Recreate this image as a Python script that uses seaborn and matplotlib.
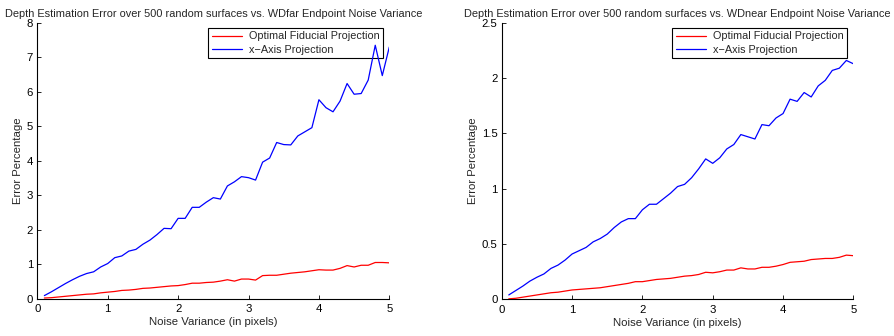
import numpy as np
import pandas as pd
import matplotlib
matplotlib.use("Agg")
import matplotlib.pyplot as plt
import seaborn as sns

# Noise variance levels (pixels)
noise_var = [round(0.1 * i, 1) for i in range(1, 51)]

# WDfar endpoint noise
far_fiducial = [0.02, 0.03, 0.05, 0.07, 0.09, 0.11, 0.13, 0.14, 0.17, 0.19,
                0.21, 0.24, 0.25, 0.27, 0.30, 0.31, 0.33, 0.35, 0.37, 0.38,
                0.41, 0.45, 0.45, 0.47, 0.48, 0.51, 0.55, 0.51, 0.57, 0.57,
                0.54, 0.67, 0.68, 0.68, 0.71, 0.74, 0.76, 0.78, 0.81, 0.84,
                0.83, 0.83, 0.88, 0.96, 0.92, 0.97, 0.97, 1.05, 1.05, 1.04]
far_xaxis = [0.09, 0.20, 0.32, 0.44, 0.55, 0.65, 0.73, 0.78, 0.92, 1.02,
             1.19, 1.24, 1.38, 1.43, 1.58, 1.70, 1.86, 2.04, 2.03, 2.33,
             2.33, 2.65, 2.65, 2.80, 2.93, 2.89, 3.27, 3.39, 3.54, 3.51,
             3.44, 3.96, 4.08, 4.53, 4.47, 4.46, 4.72, 4.84, 4.96, 5.77,
             5.54, 5.42, 5.73, 6.24, 5.93, 5.95, 6.34, 7.35, 6.47, 7.30]

# WDnear endpoint noise
near_fiducial = [0.005, 0.01, 0.02, 0.03, 0.04, 0.05, 0.06, 0.065, 0.075, 0.085,
                 0.09, 0.095, 0.10, 0.105, 0.115, 0.125, 0.135, 0.145, 0.16, 0.16,
                 0.17, 0.18, 0.185, 0.19, 0.20, 0.21, 0.215, 0.225, 0.245, 0.24,
                 0.25, 0.265, 0.265, 0.285, 0.275, 0.275, 0.29, 0.29, 0.30, 0.315,
                 0.335, 0.34, 0.345, 0.36, 0.365, 0.37, 0.37, 0.38, 0.40, 0.395]
near_xaxis = [0.04, 0.08, 0.12, 0.165, 0.20, 0.23, 0.28, 0.31, 0.355, 0.41,
              0.44, 0.47, 0.52, 0.55, 0.59, 0.65, 0.70, 0.73, 0.73, 0.81,
              0.86, 0.86, 0.91, 0.96, 1.02, 1.04, 1.10, 1.18, 1.27, 1.23,
              1.28, 1.36, 1.40, 1.49, 1.47, 1.45, 1.58, 1.57, 1.64, 1.68,
              1.81, 1.79, 1.87, 1.83, 1.93, 1.98, 2.07, 2.09, 2.16, 2.13]

series_names = ["Optimal Fiducial Projection", "x\u2212Axis Projection"]
series_colors = {series_names[0]: "#ff0000", series_names[1]: "#0000ff"}

panels = [
    ("Depth Estimation Error over 500 random surfaces vs. WDfar Endpoint Noise Variance",
     far_fiducial, far_xaxis, 8, [0, 1, 2, 3, 4, 5, 6, 7, 8], ["0", "1", "2", "3", "4", "5", "6", "7", "8"]),
    ("Depth Estimation Error over 500 random surfaces vs. WDnear Endpoint Noise Variance",
     near_fiducial, near_xaxis, 2.5, [0, 0.5, 1, 1.5, 2, 2.5], ["0", "0.5", "1", "1.5", "2", "2.5"]),
]

sns.set_style("ticks")
plt.rcParams["font.family"] = ["Liberation Sans", "DejaVu Sans"]
plt.rcParams["font.size"] = 8
plt.rcParams["axes.edgecolor"] = "black"
plt.rcParams["axes.linewidth"] = 0.8

fig = plt.figure(figsize=(8.95, 3.36), dpi=100)
ax_rects = [[0.0417, 0.111, 0.3933, 0.821], [0.5606, 0.109, 0.3929, 0.823]]

for rect, (title, fid, xax, ymax, yticks, ylabels) in zip(ax_rects, panels):
    ax = fig.add_axes(rect)
    df = pd.DataFrame({
        "Noise Variance": noise_var * 2,
        "Error": fid + xax,
        "Method": [series_names[0]] * len(noise_var) + [series_names[1]] * len(noise_var),
    })
    sns.lineplot(data=df, x="Noise Variance", y="Error", hue="Method",
                 palette=series_colors, linewidth=0.9, ax=ax, zorder=6)
    ax.set_xlim(0, 5)
    ax.set_ylim(0, ymax)
    ax.set_xticks([0, 1, 2, 3, 4, 5])
    ax.set_xticklabels(["0", "1", "2", "3", "4", "5"])
    ax.set_yticks(yticks)
    ax.set_yticklabels(ylabels)
    ax.tick_params(direction="in", length=3, width=0.6, labelsize=8.2, colors="black")
    ax.tick_params(axis="x", pad=4)
    ax.tick_params(axis="y", pad=3)
    sns.despine(ax=ax)
    ax.set_title(title, fontsize=7.9, pad=4)
    ax.set_xlabel("Noise Variance (in pixels)", fontsize=8.2, labelpad=2)
    ax.set_ylabel("Error Percentage", fontsize=8.2, labelpad=3)
    leg = ax.legend(loc="upper right", bbox_to_anchor=(0.983, 0.983),
                    frameon=True, fancybox=False, fontsize=7.8, handlelength=2.8,
                    borderpad=0.35, labelspacing=0.3, handletextpad=0.6,
                    borderaxespad=0.0)
    leg.get_frame().set_edgecolor("black")
    leg.get_frame().set_linewidth(0.8)
    leg.get_frame().set_alpha(1.0)
    leg.set_zorder(4)

fig.savefig("out.png", dpi=100)
